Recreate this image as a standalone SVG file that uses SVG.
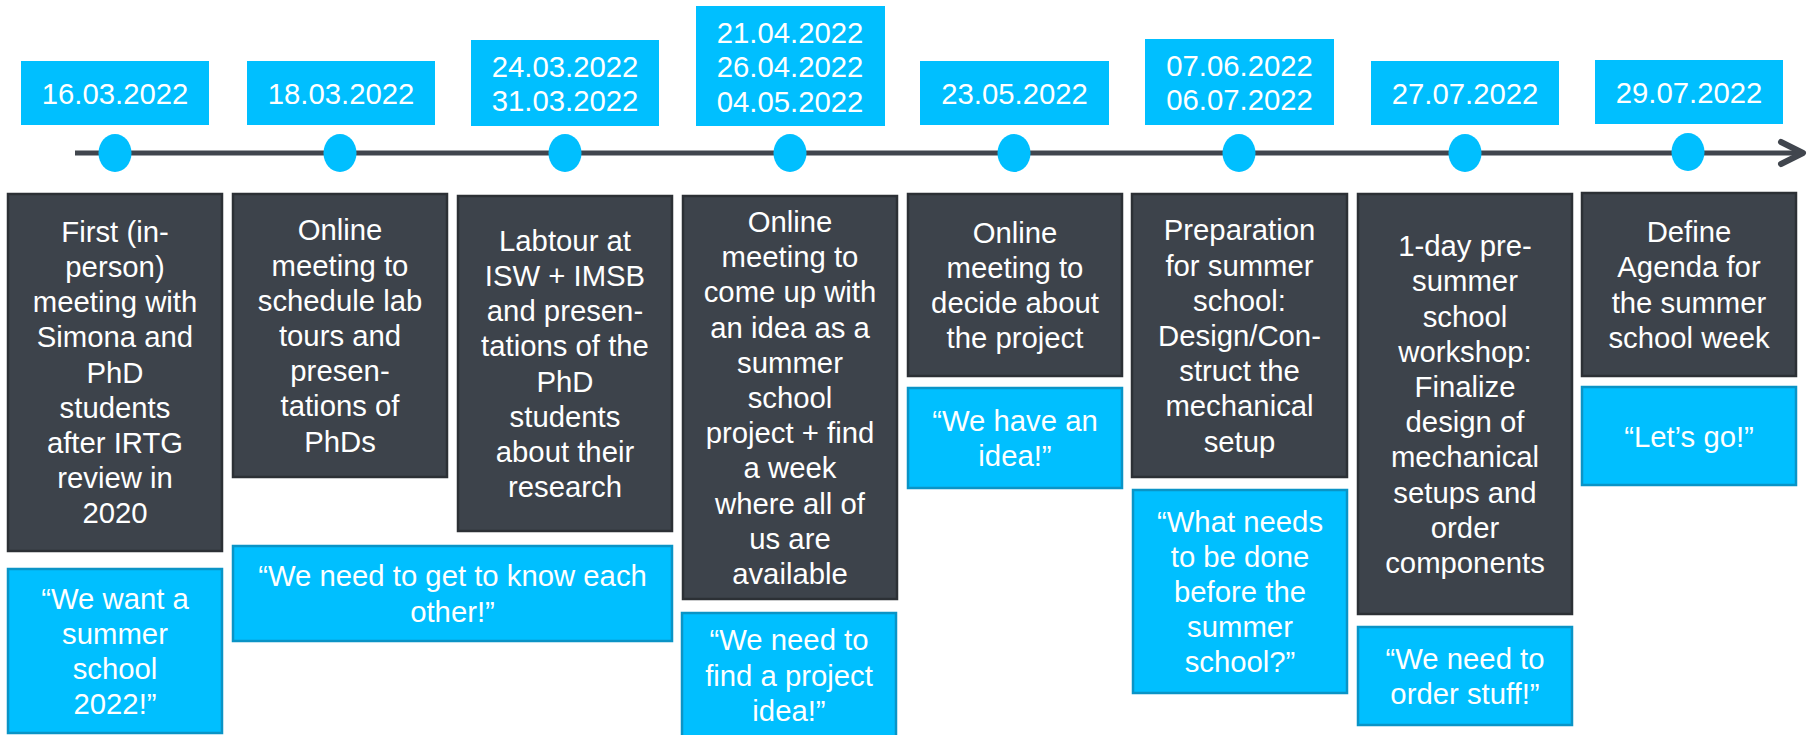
<svg xmlns="http://www.w3.org/2000/svg" width="1812" height="735" viewBox="0 0 1812 735">
  <style>
    text { font-family: "Liberation Sans", Arial, sans-serif; font-size: 29.3px; fill: #ffffff; text-anchor: middle; }
    .date { fill: #00bfff; }
    .step { fill: #3d434b; stroke: #2c3035; stroke-width: 2.5; }
    .quote { fill: #00bfff; stroke: #0a94c6; stroke-width: 2.5; }
    .dot { fill: #00bfff; }
    .axis { stroke: #41464e; stroke-width: 5; fill: none; }
    .head { stroke: #41464e; stroke-width: 6; fill: none; stroke-linecap: round; stroke-linejoin: round; }
  </style>
  <rect width="1812" height="735" fill="#ffffff"/>

  <!-- timeline axis -->
  <g id="connectors">
    <line class="axis" x1="75" y1="153" x2="1802" y2="153"/>
    <polyline class="head" points="1781,142 1803,153 1781,164"/>
  </g>

  <!-- milestones -->
  <g id="m1">
    <rect class="date" x="21" y="61" width="188" height="64"/>
    <text x="115" y="104">16.03.2022</text>
    <ellipse class="dot" cx="115" cy="153" rx="16.5" ry="19"/>
    <rect class="step" x="8" y="194" width="214" height="357"/>
    <text><tspan x="115" y="241.7">First (in-</tspan><tspan x="115" y="276.9">person)</tspan><tspan x="115" y="312.1">meeting with</tspan><tspan x="115" y="347.3">Simona and</tspan><tspan x="115" y="382.5">PhD</tspan><tspan x="115" y="417.7">students</tspan><tspan x="115" y="452.9">after IRTG</tspan><tspan x="115" y="488.1">review in</tspan><tspan x="115" y="523.3">2020</tspan></text>
    <rect class="quote" x="8" y="569" width="214" height="164"/>
    <text><tspan x="115" y="608.7">“We want a</tspan><tspan x="115" y="643.9">summer</tspan><tspan x="115" y="679.1">school</tspan><tspan x="115" y="714.3">2022!”</tspan></text>
  </g>

  <g id="m2">
    <rect class="date" x="247" y="61" width="188" height="64"/>
    <text x="341" y="104">18.03.2022</text>
    <ellipse class="dot" cx="340" cy="153" rx="16.5" ry="19"/>
    <rect class="step" x="233" y="194" width="214" height="283"/>
    <text><tspan x="340" y="240.4">Online</tspan><tspan x="340" y="275.6">meeting to</tspan><tspan x="340" y="310.8">schedule lab</tspan><tspan x="340" y="346">tours and</tspan><tspan x="340" y="381.2">presen-</tspan><tspan x="340" y="416.4">tations of</tspan><tspan x="340" y="451.6">PhDs</tspan></text>
    <rect class="quote" x="233" y="546" width="439" height="95"/>
    <text><tspan x="452.5" y="586.4">“We need to get to know each</tspan><tspan x="452.5" y="621.6">other!”</tspan></text>
  </g>

  <g id="m3">
    <rect class="date" x="471" y="40" width="188" height="86"/>
    <text><tspan x="565" y="76.8">24.03.2022</tspan><tspan x="565" y="111.3">31.03.2022</tspan></text>
    <ellipse class="dot" cx="565" cy="153" rx="16.5" ry="19"/>
    <rect class="step" x="458" y="196" width="214" height="335"/>
    <text><tspan x="565" y="250.8">Labtour at</tspan><tspan x="565" y="286">ISW + IMSB</tspan><tspan x="565" y="321.2">and presen-</tspan><tspan x="565" y="356.4">tations of the</tspan><tspan x="565" y="391.6">PhD</tspan><tspan x="565" y="426.8">students</tspan><tspan x="565" y="462">about their</tspan><tspan x="565" y="497.2">research</tspan></text>
  </g>

  <g id="m4">
    <rect class="date" x="696" y="6" width="189" height="120"/>
    <text><tspan x="790" y="42.5">21.04.2022</tspan><tspan x="790" y="77">26.04.2022</tspan><tspan x="790" y="111.5">04.05.2022</tspan></text>
    <ellipse class="dot" cx="790" cy="153" rx="16.5" ry="19"/>
    <rect class="step" x="683" y="196" width="214" height="403"/>
    <text><tspan x="790" y="232">Online</tspan><tspan x="790" y="267.2">meeting to</tspan><tspan x="790" y="302.4">come up with</tspan><tspan x="790" y="337.6">an idea as a</tspan><tspan x="790" y="372.8">summer</tspan><tspan x="790" y="408">school</tspan><tspan x="790" y="443.2">project + find</tspan><tspan x="790" y="478.4">a week</tspan><tspan x="790" y="513.6">where all of</tspan><tspan x="790" y="548.8">us are</tspan><tspan x="790" y="584">available</tspan></text>
    <rect class="quote" x="682" y="613" width="214" height="124"/>
    <text><tspan x="789" y="650.3">“We need to</tspan><tspan x="789" y="685.5">find a project</tspan><tspan x="789" y="720.7">idea!”</tspan></text>
  </g>

  <g id="m5">
    <rect class="date" x="920" y="61" width="189" height="64"/>
    <text x="1014.5" y="104">23.05.2022</text>
    <ellipse class="dot" cx="1014" cy="153" rx="16.5" ry="19"/>
    <rect class="step" x="908" y="194" width="214" height="182"/>
    <text><tspan x="1015" y="242.7">Online</tspan><tspan x="1015" y="277.9">meeting to</tspan><tspan x="1015" y="313.1">decide about</tspan><tspan x="1015" y="348.3">the project</tspan></text>
    <rect class="quote" x="908" y="388" width="214" height="100"/>
    <text><tspan x="1015" y="430.9">“We have an</tspan><tspan x="1015" y="466.1">idea!”</tspan></text>
  </g>

  <g id="m6">
    <rect class="date" x="1145" y="39" width="189" height="86"/>
    <text><tspan x="1239.5" y="75.8">07.06.2022</tspan><tspan x="1239.5" y="110.3">06.07.2022</tspan></text>
    <ellipse class="dot" cx="1239" cy="153" rx="16.5" ry="19"/>
    <rect class="step" x="1132" y="194" width="215" height="283"/>
    <text><tspan x="1239.5" y="240.4">Preparation</tspan><tspan x="1239.5" y="275.6">for summer</tspan><tspan x="1239.5" y="310.8">school:</tspan><tspan x="1239.5" y="346">Design/Con-</tspan><tspan x="1239.5" y="381.2">struct the</tspan><tspan x="1239.5" y="416.4">mechanical</tspan><tspan x="1239.5" y="451.6">setup</tspan></text>
    <rect class="quote" x="1133" y="490" width="214" height="203"/>
    <text><tspan x="1240" y="531.6">“What needs</tspan><tspan x="1240" y="566.8">to be done</tspan><tspan x="1240" y="602">before the</tspan><tspan x="1240" y="637.2">summer</tspan><tspan x="1240" y="672.4">school?”</tspan></text>
  </g>

  <g id="m7">
    <rect class="date" x="1371" y="61" width="188" height="64"/>
    <text x="1465" y="104">27.07.2022</text>
    <ellipse class="dot" cx="1465" cy="153" rx="16.5" ry="19"/>
    <rect class="step" x="1358" y="194" width="214" height="420"/>
    <text><tspan x="1465" y="256.1">1-day pre-</tspan><tspan x="1465" y="291.3">summer</tspan><tspan x="1465" y="326.5">school</tspan><tspan x="1465" y="361.7">workshop:</tspan><tspan x="1465" y="396.9">Finalize</tspan><tspan x="1465" y="432.1">design of</tspan><tspan x="1465" y="467.3">mechanical</tspan><tspan x="1465" y="502.5">setups and</tspan><tspan x="1465" y="537.7">order</tspan><tspan x="1465" y="572.9">components</tspan></text>
    <rect class="quote" x="1358" y="627" width="214" height="98"/>
    <text><tspan x="1465" y="668.9">“We need to</tspan><tspan x="1465" y="704.1">order stuff!”</tspan></text>
  </g>

  <g id="m8">
    <rect class="date" x="1595" y="60" width="188" height="64"/>
    <text x="1689" y="103">29.07.2022</text>
    <ellipse class="dot" cx="1688" cy="152" rx="16.5" ry="19"/>
    <rect class="step" x="1582" y="193" width="214" height="183"/>
    <text><tspan x="1689" y="242.2">Define</tspan><tspan x="1689" y="277.4">Agenda for</tspan><tspan x="1689" y="312.6">the summer</tspan><tspan x="1689" y="347.8">school week</tspan></text>
    <rect class="quote" x="1582" y="387" width="214" height="98"/>
    <text x="1689" y="446.5">“Let’s go!”</text>
  </g>
</svg>
